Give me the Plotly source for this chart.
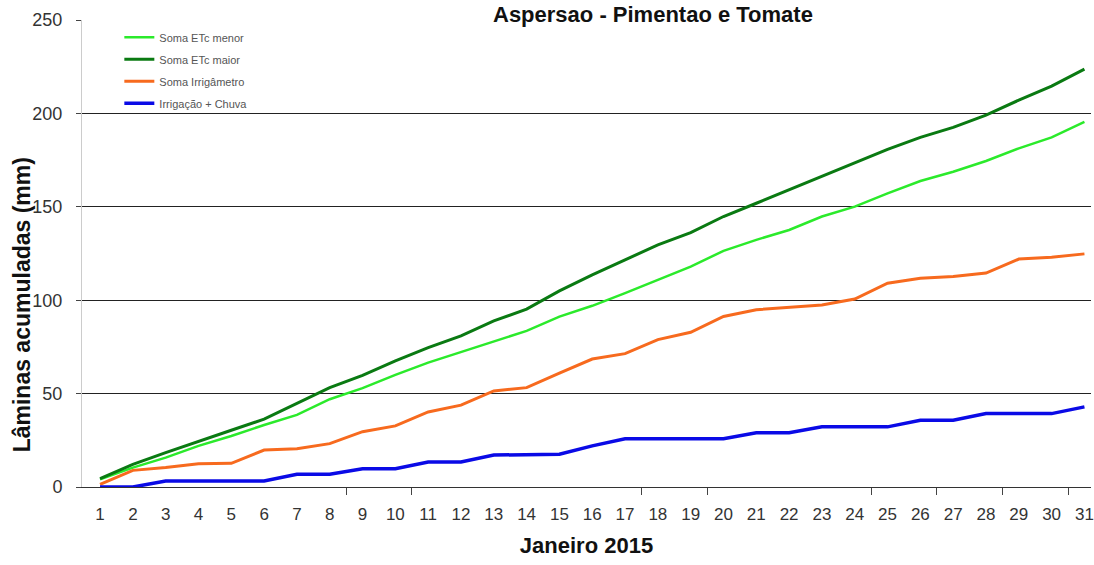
import plotly.graph_objects as go

days = list(range(1, 32))
x_labels = [str(d) for d in days]

etc_menor = [4.1, 10.4, 15.7, 22.0, 27.3, 33.2, 38.6, 47.0, 52.9, 60.0, 66.6, 72.3, 78.2, 83.6, 91.2,
             97.0, 103.8, 110.9, 118.0, 126.4, 132.3, 137.6, 144.8, 150.1, 157.2, 163.8, 168.8, 174.5,
             181.3, 187.2, 195.5]
etc_maior = [4.5, 12.1, 18.4, 24.6, 30.4, 36.3, 44.6, 53.2, 59.8, 67.5, 74.6, 80.9, 88.9, 95.2, 105.0,
             113.6, 121.6, 129.6, 136.2, 144.8, 151.9, 159.0, 166.5, 173.3, 180.7, 187.2, 192.5, 199.1,
             207.1, 214.6, 223.7]
irrigametro = [1.4, 8.9, 10.4, 12.5, 12.7, 19.8, 20.5, 23.2, 29.6, 32.7, 40.2, 43.8, 51.4, 53.2, 61.0,
               68.5, 71.4, 78.9, 82.8, 91.3, 94.9, 96.3, 97.4, 100.6, 109.1, 111.8, 112.7, 114.5,
               122.0, 123.0, 124.8]
irrig_chuva = [0.0, 0.0, 3.2, 3.2, 3.2, 3.2, 6.8, 6.8, 9.8, 9.8, 13.4, 13.4, 17.1, 17.1, 17.5,
               22.0, 25.8, 25.8, 25.8, 25.8, 29.0, 29.0, 32.2, 32.2, 32.2, 35.7, 35.7, 39.3,
               39.3, 39.3, 42.9]

series = [
    ("Soma ETc menor", etc_menor, "#2BEA2B", 2.5),
    ("Soma ETc maior", etc_maior, "#0A7A12", 3),
    ("Soma Irrigâmetro", irrigametro, "#F76A1E", 3),
    ("Irrigação + Chuva", irrig_chuva, "#0A0AE6", 3.5),
]

y_ticks = [0, 50, 100, 150, 200, 250]
minor_x_ticks = [8.5, 10.5, 17.5, 19.5, 24.5, 26.5, 28.5, 30.5]
x_range = [0.45, 31.2]

fig = go.Figure()
for i, (name, vals, color, w) in enumerate(series):
    fig.add_trace(go.Scatter(x=days, y=vals, name=name, mode="lines", legendgroup=f"g{i}",
                             line=dict(color=color, width=w)))
# invisible trace to carry the second x-axis (tick marks between days)
fig.add_trace(go.Scatter(x=[x_range[0]], y=[0], xaxis="x2", mode="markers",
                         marker=dict(opacity=0), showlegend=False, hoverinfo="skip"))

fig.update_layout(
    width=1094, height=565,
    margin=dict(l=82, r=0, t=20, b=78),
    plot_bgcolor="white", paper_bgcolor="white",
    font=dict(family="Liberation Sans, Arial", color="#222"),
    showlegend=True,
    legend=dict(x=0.037, y=0.994, xanchor="left", yanchor="top",
                bgcolor="rgba(0,0,0,0)", font=dict(size=11, color="#555"),
                tracegroupgap=3, itemwidth=30),
    xaxis=dict(
        range=x_range, tickmode="array", tickvals=days, ticktext=x_labels,
        ticks="outside", ticklen=12, tickcolor="rgba(0,0,0,0)",
        showgrid=False, zeroline=False, ticklabeloverflow="allow",
        showline=True, linecolor="#333", linewidth=1,
        tickfont=dict(size=17, color="#333"),
        title=dict(text="<b>Janeiro 2015</b>", font=dict(size=22, color="#111"), standoff=14),
    ),
    xaxis2=dict(
        overlaying="x", matches="x", range=x_range, side="bottom",
        tickmode="array", tickvals=minor_x_ticks, showticklabels=False,
        ticks="outside", ticklen=7, tickcolor="#444", tickwidth=1,
        showgrid=False, zeroline=False, showline=False,
    ),
    yaxis=dict(
        range=[0, 250], tickmode="array", tickvals=y_ticks,
        ticks="outside", ticklen=5, tickcolor="#444", ticklabelstandoff=10,
        showgrid=True, gridcolor="#222", gridwidth=1, zeroline=False,
        showline=True, linecolor="#ccc", linewidth=1,
        tickfont=dict(size=18, color="#333"),
    ),
    annotations=[
        dict(text="<b>Aspersao - Pimentao e Tomate</b>",
             xref="paper", yref="paper", x=0.566, y=1.0418,
             xanchor="center", yanchor="top", showarrow=False,
             font=dict(size=22, color="#111")),
        dict(text="<b>Lâminas acumuladas (mm)</b>", textangle=-90,
             xref="paper", yref="paper", x=-0.06, y=0.39,
             xanchor="center", yanchor="middle", showarrow=False,
             font=dict(size=23, color="#111")),
    ],
)

fig.write_html("out.html", post_script="document.body.style.margin='0';",
               config={"displayModeBar": False})
